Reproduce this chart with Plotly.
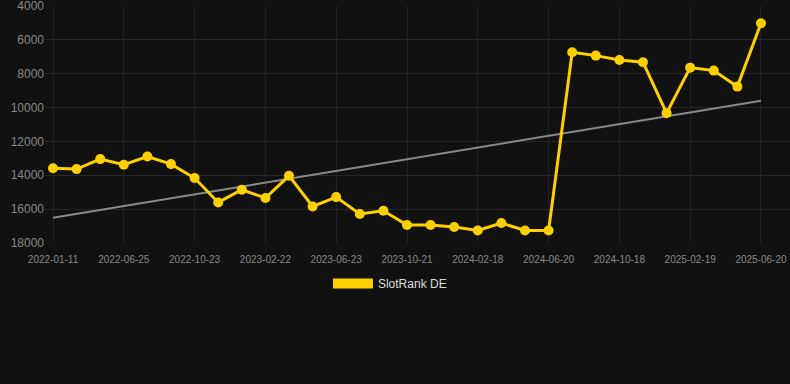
import numpy as np
import plotly.graph_objects as go

dates = [
    "2022-01-11", "2022-03-06", "2022-04-30",
    "2022-06-25", "2022-08-04", "2022-09-13",
    "2022-10-23", "2022-12-02", "2023-01-12",
    "2023-02-22", "2023-04-03", "2023-05-13",
    "2023-06-23", "2023-08-02", "2023-09-11",
    "2023-10-21", "2023-11-30", "2024-01-09",
    "2024-02-18", "2024-03-29", "2024-05-10",
    "2024-06-20", "2024-07-30", "2024-09-08",
    "2024-10-18", "2024-11-28", "2025-01-09",
    "2025-02-19", "2025-03-31", "2025-05-10",
    "2025-06-20",
]
ranks = [
    13580, 13635, 13045, 13380, 12890, 13340, 14165, 15605, 14855, 15345,
    14030, 15840, 15290, 16290, 16095, 16940, 16940, 17055, 17260, 16820,
    17260, 17260, 6730, 6930, 7185, 7320, 10330, 7640, 7815, 8760,
    5020,
]
series_name = "SlotRank DE"
y_ticks = [4000, 6000, 8000, 10000, 12000, 14000, 16000, 18000]
y_tick_text = [str(v) for v in y_ticks]

idx = np.arange(len(ranks))
slope, intercept = np.polyfit(idx, ranks, 1)
trend = [intercept, intercept + slope * (len(ranks) - 1)]

GOLD = "#FFD000"
fig = go.Figure()
fig.add_trace(go.Scatter(
    x=[dates[0], dates[-1]], y=trend, mode="lines",
    line=dict(color="#8a8a8a", width=2), showlegend=False, hoverinfo="skip",
))
fig.add_trace(go.Scatter(
    x=dates, y=ranks, mode="lines+markers", name=series_name,
    line=dict(color=GOLD, width=3),
    marker=dict(color=GOLD, size=10),
    showlegend=False,
))
fig.add_trace(go.Scatter(
    x=[None], y=[None], mode="lines", name=series_name,
    line=dict(color=GOLD, width=12), showlegend=True,
))

fig.update_layout(
    width=790, height=384,
    paper_bgcolor="#111111", plot_bgcolor="#111111",
    margin=dict(l=45, r=0, t=6, b=141),
    font=dict(family="Liberation Sans, Arial, sans-serif", color="#999999", size=12),
    xaxis=dict(
        type="category", categoryorder="array", categoryarray=dates,
        range=[-0.34, 31.23], tick0=0, dtick=3,
        showgrid=True, gridcolor="#222222", gridwidth=1,
        zeroline=False, showline=False, ticks="",
        tickfont=dict(size=10, color="#888888"),
        ticklabelstandoff=9, ticklabeloverflow="allow",
    ),
    yaxis=dict(
        range=[18001, 3999], tickvals=y_ticks, ticktext=y_tick_text,
        showgrid=True, gridcolor="#262626", gridwidth=1,
        zeroline=False, showline=False, ticks="",
        tickfont=dict(size=12, color="#888888"),
        ticklabeloverflow="allow",
    ),
    legend=dict(
        orientation="h", x=0.463, xanchor="center", y=-0.11, yanchor="top",
        font=dict(size=12, color="#dddddd"), itemwidth=40,
        bgcolor="rgba(0,0,0,0)",
    ),
)
fig.write_html(
    "out.html",
    config={"displayModeBar": False},
    post_script="document.body.style.margin='0';document.body.style.background='#111111';",
)
